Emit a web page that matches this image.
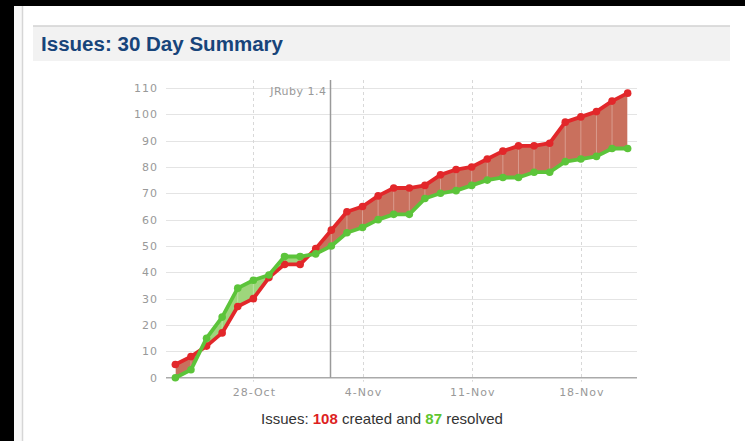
<!DOCTYPE html>
<html>
<head>
<meta charset="utf-8">
<script src="https://cdn.jsdelivr.net/npm/d3@7"></script>
<style>
  html, body { margin: 0; padding: 0; background: #000; }
  #page { position: relative; width: 745px; height: 441px; overflow: hidden; }
  svg { display: block; }
  .tick-label { font-family: 'DejaVu Sans', sans-serif; font-size: 11px; fill: #999; letter-spacing: 1px; }
</style>
</head>
<body>
<div id="page"></div>
<script>
// 30 days of issue counts (cumulative)
const days = [
  '2009-10-23', '2009-10-24', '2009-10-25', '2009-10-26', '2009-10-27',
  '2009-10-28', '2009-10-29', '2009-10-30', '2009-10-31', '2009-11-01',
  '2009-11-02', '2009-11-03', '2009-11-04', '2009-11-05', '2009-11-06',
  '2009-11-07', '2009-11-08', '2009-11-09', '2009-11-10', '2009-11-11',
  '2009-11-12', '2009-11-13', '2009-11-14', '2009-11-15', '2009-11-16',
  '2009-11-17', '2009-11-18', '2009-11-19', '2009-11-20', '2009-11-21'
]
const created = [5, 8, 12, 17, 27, 30, 38, 43, 43, 49, 56, 63, 65, 69, 72, 72, 73, 77, 79, 80, 83, 86, 88, 88, 89, 97, 99, 101, 105, 108]
const resolved = [0, 3, 15, 23, 34, 37, 39, 46, 46, 47, 50, 55, 57, 60, 62, 62, 68, 70, 71, 73, 75, 76, 76, 78, 78, 82, 83, 84, 87, 87]

const xTicks = ['2009-10-28', '2009-11-04', '2009-11-11', '2009-11-18']
const yTicks = [0, 10, 20, 30, 40, 50, 60, 70, 80, 90, 100, 110]
const versions = [{ date: '2009-11-02', label: 'JRuby 1.4' }]

const width = 745
const height = 441
const margin = { top: 80, left: 166, right: 108, bottom: 63 }

const parse = d3.utcParse('%Y-%m-%d')
const fmt = d3.utcFormat('%-d-%b')

const data = days.map((d, i) => ({ date: parse(d), created: created[i], resolved: resolved[i] }))

const svg = d3
  .select('#page')
  .append('svg')
  .attr('width', width)
  .attr('height', height)

// page chrome
svg.append('rect').attr('width', width).attr('height', height).attr('fill', '#000')
svg.append('rect').attr('x', 14).attr('y', 6).attr('width', width - 14).attr('height', height - 6).attr('fill', '#fff')
svg.append('rect').attr('x', 14).attr('y', 6).attr('width', 8).attr('height', height - 6).attr('fill', '#f8f8f8')
svg.append('line').attr('x1', 22.5).attr('x2', 22.5).attr('y1', 6).attr('y2', height).attr('stroke', '#d6d6d6').attr('stroke-width', 1.5)

// header band
svg.append('rect').attr('x', 33).attr('y', 26).attr('width', 697).attr('height', 35).attr('fill', '#f2f2f2')
svg.append('line').attr('x1', 33).attr('x2', 730).attr('y1', 26).attr('y2', 26).attr('stroke', '#d2d2d2').attr('stroke-width', 1.5)
svg
  .append('text')
  .text('Issues: 30 Day Summary')
  .attr('x', 41)
  .attr('y', 51)
  .attr('fill', '#17447a')
  .attr('font-family', 'Liberation Sans, Arial, sans-serif')
  .attr('font-weight', 'bold')
  .attr('font-size', 20)
  .attr('textLength', 242)
  .attr('lengthAdjust', 'spacingAndGlyphs')

const xScale = d3
  .scaleUtc()
  .domain([new Date(Date.UTC(2009, 9, 22, 9, 36)), new Date(Date.UTC(2009, 10, 21, 14, 24))])
  .range([margin.left, width - margin.right])

const yScale = d3
  .scaleLinear()
  .domain([0, 113])
  .range([377.7, margin.top])

// horizontal grid
svg
  .selectAll('.hgrid')
  .data(yTicks.filter(d => d > 0))
  .enter()
  .append('line')
  .attr('class', 'hgrid')
  .attr('x1', margin.left)
  .attr('x2', width - margin.right)
  .attr('y1', d => Math.round(yScale(d)) + 0.5)
  .attr('y2', d => Math.round(yScale(d)) + 0.5)
  .attr('stroke', '#e4e4e4')
  .attr('stroke-width', 1.2)

// vertical dashed grid
svg
  .selectAll('.vgrid')
  .data(xTicks)
  .enter()
  .append('line')
  .attr('class', 'vgrid')
  .attr('x1', d => Math.round(xScale(parse(d))) + 0.5)
  .attr('x2', d => Math.round(xScale(parse(d))) + 0.5)
  .attr('y1', margin.top)
  .attr('y2', yScale(0) + 4)
  .attr('stroke', '#d8d8d8')
  .attr('stroke-dasharray', '3,3')

// axis line
svg
  .append('line')
  .attr('x1', margin.left)
  .attr('x2', width - margin.right)
  .attr('y1', yScale(0))
  .attr('y2', yScale(0))
  .attr('stroke', '#aaa')
  .attr('stroke-width', 1.5)

svg
  .selectAll('.ylabel')
  .data(yTicks)
  .enter()
  .append('text')
  .attr('class', 'tick-label')
  .text(d => d)
  .attr('x', 158)
  .attr('y', d => yScale(d))
  .attr('dy', '0.36em')
  .attr('text-anchor', 'end')

svg
  .selectAll('.xlabel')
  .data(xTicks)
  .enter()
  .append('text')
  .attr('class', 'tick-label')
  .text(d => fmt(parse(d)))
  .attr('x', d => xScale(parse(d)) + 1)
  .attr('y', 396)
  .attr('text-anchor', 'middle')

// version marker
versions.forEach(v => {
  const vx = Math.round(xScale(parse(v.date))) - 0.5
  svg
    .append('line')
    .attr('x1', vx)
    .attr('x2', vx)
    .attr('y1', margin.top)
    .attr('y2', yScale(0))
    .attr('stroke', '#9a9a9a')
    .attr('stroke-width', 1.5)
  svg
    .append('text')
    .attr('class', 'tick-label')
    .text(v.label)
    .attr('x', vx - 4)
    .attr('y', 95)
    .attr('text-anchor', 'end')
    .style('letter-spacing', '0.5px')
})

// difference fill: red where created is above, green where resolved is above
const defs = svg.append('defs')
defs
  .append('clipPath')
  .attr('id', 'clip-below')
  .append('path')
  .attr('d', d3.area().x(d => xScale(d.date)).y0(yScale(0) + 10).y1(d => yScale(d.created))(data))
defs
  .append('clipPath')
  .attr('id', 'clip-above')
  .append('path')
  .attr('d', d3.area().x(d => xScale(d.date)).y0(0).y1(d => yScale(d.created))(data))

const between = d3
  .area()
  .x(d => xScale(d.date))
  .y0(d => yScale(d.resolved))
  .y1(d => yScale(d.created))

svg
  .append('path')
  .datum(data)
  .attr('d', between)
  .attr('clip-path', 'url(#clip-below)')
  .attr('fill', '#c9705d')

svg
  .append('path')
  .datum(data)
  .attr('d', between)
  .attr('clip-path', 'url(#clip-above)')
  .attr('fill', '#9ed67c')

// faint dividers inside the fill at each day
svg
  .selectAll('.divider')
  .data(data)
  .enter()
  .append('line')
  .attr('x1', d => xScale(d.date))
  .attr('x2', d => xScale(d.date))
  .attr('y1', d => yScale(d.resolved))
  .attr('y2', d => yScale(d.created))
  .attr('stroke', '#fff')
  .attr('stroke-opacity', 0.3)
  .attr('stroke-width', 1)

const series = [
  { key: 'created', color: '#e2272a' },
  { key: 'resolved', color: '#5cc43a' }
]

series.forEach(s => {
  const line = d3
    .line()
    .x(d => xScale(d.date))
    .y(d => yScale(d[s.key]))

  svg
    .append('path')
    .datum(data)
    .attr('d', line)
    .attr('fill', 'none')
    .attr('stroke', s.color)
    .attr('stroke-width', 3.8)
    .attr('stroke-linejoin', 'round')

  svg
    .selectAll('.dot-' + s.key)
    .data(data)
    .enter()
    .append('circle')
    .attr('cx', d => xScale(d.date))
    .attr('cy', d => yScale(d[s.key]))
    .attr('r', 3.8)
    .attr('fill', s.color)
})

// summary line
const summary = svg
  .append('text')
  .attr('x', 382)
  .attr('y', 424)
  .attr('text-anchor', 'middle')
  .attr('font-family', 'Liberation Sans, Arial, sans-serif')
  .attr('font-size', 15)
  .attr('fill', '#333')
summary.append('tspan').text('Issues: ')
summary.append('tspan').text(created[created.length - 1]).attr('font-weight', 'bold').attr('fill', '#dd1f1f')
summary.append('tspan').text(' created and ')
summary.append('tspan').text(resolved[resolved.length - 1]).attr('font-weight', 'bold').attr('fill', '#5ec62f')
summary.append('tspan').text(' resolved')
</script>
</body>
</html>
